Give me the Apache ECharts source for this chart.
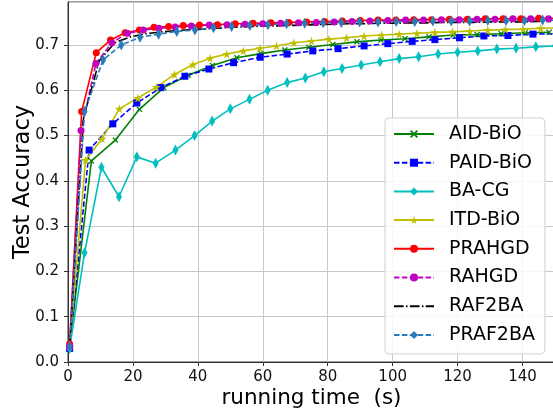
<!DOCTYPE html>
<html>
<head>
<meta charset="utf-8">
<script src="https://cdn.jsdelivr.net/npm/echarts@6/dist/echarts.min.js"></script>
<style>
html,body{margin:0;padding:0;background:#fff;}
#c{width:553px;height:419px;}
</style>
</head>
<body>
<div id="c"></div>
<script>
// ---- data ----
const seriesNames = ['AID-BiO','PAID-BiO','BA-CG','ITD-BiO','PRAHGD','RAHGD','RAF2BA','PRAF2BA'];
const xTicks = [0,20,40,60,80,100,120,140];
const yTicks = [0.0,0.1,0.2,0.3,0.4,0.5,0.6,0.7];

const aidT = [0.5, 7.2, 14.6, 22, 29.5, 37, 44.5, 52, 59.4, 66.8, 74.2, 81.6, 89, 96.4, 103.8, 111.2, 118.6, 126, 133.4, 140.8, 148.2];
const aidV = [0.035, 0.444, 0.490, 0.558, 0.606, 0.633, 0.655, 0.672, 0.681, 0.689, 0.695, 0.701, 0.707, 0.711, 0.714, 0.718, 0.722, 0.723, 0.725, 0.727, 0.728];

const paidT = [0.5, 6.5, 13.8, 21.2, 28.6, 36, 43.4, 51, 59.2, 67.5, 75.4, 83.2, 91.2, 98.5, 106, 113, 120.6, 128.1, 135.5, 143.2, 150.8];
const paidV = [0.03, 0.468, 0.526, 0.572, 0.606, 0.631, 0.647, 0.661, 0.673, 0.680, 0.687, 0.692, 0.698, 0.703, 0.708, 0.712, 0.716, 0.720, 0.721, 0.724, 0.725];

const bacgT = [0.5, 5.1, 10.3, 15.7, 21.2, 27, 33.1, 39, 44.4, 50, 55.9, 61.5, 67.5, 73.1, 78.8, 84.4, 90.3, 96.1, 102, 108, 114, 120, 126.2, 132.1, 138, 144.1, 150];
const bacgV = [0.03, 0.241, 0.430, 0.365, 0.453, 0.439, 0.468, 0.500, 0.532, 0.559, 0.580, 0.600, 0.617, 0.627, 0.641, 0.648, 0.656, 0.663, 0.670, 0.674, 0.680, 0.684, 0.687, 0.691, 0.693, 0.696, 0.698];

const itdT = [0.5, 5.4, 10.5, 15.8, 21.5, 27.2, 32.8, 38.5, 43.8, 48.9, 54, 59.1, 64.2, 69.6, 75, 80.4, 85.8, 91.2, 96.6, 102, 107.5, 113, 118.4, 123.8, 129.3, 134.7, 140.2, 145.6, 151];
const itdV = [0.035, 0.446, 0.493, 0.559, 0.583, 0.607, 0.635, 0.657, 0.671, 0.680, 0.687, 0.693, 0.698, 0.705, 0.709, 0.713, 0.716, 0.720, 0.722, 0.724, 0.726, 0.728, 0.729, 0.731, 0.733, 0.734, 0.735, 0.737, 0.738];

const prahgdT = [0.5, 4.2, 8.7, 13.1, 17.6, 22, 26.5, 31, 35.5, 40.5, 46, 51.5, 57, 62.5, 68, 73.5, 79, 84.5, 90, 95.5, 101, 106.5, 112, 117.5, 123, 128.5, 134, 139.5, 145, 150.5];
const prahgdV = [0.04, 0.553, 0.683, 0.711, 0.727, 0.733, 0.739, 0.741, 0.743, 0.744, 0.745, 0.747, 0.748, 0.749, 0.750, 0.751, 0.752, 0.753, 0.754, 0.755, 0.755, 0.756, 0.756, 0.757, 0.757, 0.758, 0.758, 0.758, 0.759, 0.759];

const rahgdT = [0.5, 4, 8.6, 13.5, 18.3, 23.2, 28, 33, 38, 43.5, 49, 54.5, 60, 65.5, 71, 76.5, 82, 87.5, 93, 98.5, 104, 109.5, 115, 120.5, 126, 131.5, 137, 142.5, 148];
const rahgdV = [0.035, 0.511, 0.659, 0.705, 0.726, 0.733, 0.737, 0.740, 0.742, 0.744, 0.745, 0.746, 0.747, 0.748, 0.749, 0.750, 0.751, 0.752, 0.753, 0.754, 0.755, 0.755, 0.756, 0.756, 0.757, 0.757, 0.758, 0.758, 0.758];

const raf2baT = [0.5, 4.8, 9.6, 14.4, 19.2, 24, 28.8, 33.6, 38.4, 43.2, 48, 52.8, 57.6, 62.4, 67.2, 72, 76.8, 81.6, 86.4, 91.2, 96, 100.8, 105.6, 110.4, 115.2, 120, 124.8, 129.6, 134.4, 139.2, 144, 148.8];
const raf2baV = [0.03, 0.54, 0.665, 0.705, 0.718, 0.725, 0.729, 0.732, 0.734, 0.736, 0.738, 0.740, 0.741, 0.742, 0.743, 0.744, 0.745, 0.746, 0.747, 0.747, 0.748, 0.748, 0.749, 0.749, 0.750, 0.750, 0.750, 0.751, 0.751, 0.751, 0.752, 0.752];

const praf2baT = [0.5, 5.1, 10.8, 16.4, 22.2, 27.9, 33.5, 39.1, 44.8, 50.4, 56, 61.6, 67.3, 72.9, 78.6, 84.2, 89.8, 95.5, 101.1, 106.8, 112.4, 118, 123.7, 129.3, 134.9, 140.6, 146.2, 151.8];
const praf2baV = [0.035, 0.553, 0.667, 0.700, 0.717, 0.724, 0.730, 0.733, 0.738, 0.741, 0.743, 0.745, 0.747, 0.748, 0.749, 0.750, 0.751, 0.751, 0.752, 0.752, 0.753, 0.753, 0.753, 0.754, 0.754, 0.754, 0.755, 0.755];

// ---- helpers ----
function pairs(t, v){ return t.map((x,i)=>[x, v[i]]); }
const STAR = 'path://M50,0L61,35L98,35L68,57L79,91L50,70L21,91L32,57L2,35L39,35Z';
const XMARK = 'path://M0,1.5L1.5,0L5,3.5L8.5,0L10,1.5L6.5,5L10,8.5L8.5,10L5,6.5L1.5,10L0,8.5L3.5,5Z';
const DASH = [5.5, 2.4];
const DASHDOT = [9.6, 2.4, 1.5, 2.4];
const LW = 1.6;

function mk(name, t, v, color, lineType, symbol, size){
  const noMark = symbol === 'none';
  return {
    name: name, type: 'line', data: pairs(t, v),
    showSymbol: !noMark, showAllSymbol: true,
    symbol: noMark ? 'circle' : symbol, symbolSize: noMark ? 0 : size,
    lineStyle: {color: color, width: LW, type: lineType},
    itemStyle: {color: color, borderColor: color, borderWidth: 0},
    emphasis: {disabled: true},
    clip: true, z: 2
  };
}

const series = [
  mk(seriesNames[0], aidT, aidV, '#008000', 'solid', XMARK, 6),
  mk(seriesNames[1], paidT, paidV, '#0000ff', DASH, 'rect', 7),
  mk(seriesNames[2], bacgT, bacgV, '#00bfbf', 'solid', 'diamond', [6, 11]),
  mk(seriesNames[3], itdT, itdV, '#bfbf00', 'solid', STAR, 9),
  mk(seriesNames[4], prahgdT, prahgdV, '#ff0000', 'solid', 'circle', 7),
  mk(seriesNames[5], rahgdT, rahgdV, '#bf00bf', DASH, 'circle', 7),
  mk(seriesNames[6], raf2baT, raf2baV, '#000000', DASHDOT, 'none', 0),
  mk(seriesNames[7], praf2baT, praf2baV, '#2b7bba', DASH, 'diamond', [6, 11])
];

const legendData = seriesNames.map(n => n === 'RAF2BA'
  ? {name: n, itemStyle: {color: 'rgba(0,0,0,0)', borderColor: 'rgba(0,0,0,0)', borderWidth: 0, opacity: 0}}
  : {name: n});

const chart = echarts.init(document.getElementById('c'), null, {renderer: 'canvas'});
const FONT = 'DejaVu Sans';
chart.setOption({
  animation: false,
  backgroundColor: '#ffffff',
  textStyle: {fontFamily: FONT},
  grid: {left: 68, top: 2, right: -2, bottom: 57, containLabel: false, outerBoundsMode: 'none',
    show: true, borderColor: '#333', borderWidth: 1, backgroundColor: 'transparent'},
  xAxis: {
    type: 'value', min: xTicks[0], max: 150, interval: 20,
    name: 'running time  (s)', nameLocation: 'middle', nameGap: 25, nameMoveOverlap: false,
    nameTextStyle: {fontSize: 21.5, color: '#000', fontFamily: FONT},
    axisLine: {show: true, lineStyle: {color: '#333', width: 1}},
    axisTick: {show: true, length: 4, lineStyle: {color: '#333'}},
    axisLabel: {fontSize: 15, color: '#111', margin: 8, fontFamily: FONT, showMaxLabel: false,
      formatter: function(v){ return xTicks.indexOf(v) >= 0 ? String(v) : ''; }},
    splitLine: {show: true, lineStyle: {color: '#c8c8c8', width: 1}}
  },
  yAxis: {
    type: 'value', min: 0, max: 0.795, interval: 0.1,
    name: 'Test Accuracy', nameLocation: 'middle', nameGap: 33, nameMoveOverlap: false,
    nameTextStyle: {fontSize: 22.5, color: '#000', fontFamily: FONT},
    axisLine: {show: true, lineStyle: {color: '#333', width: 1}},
    axisTick: {show: true, length: 4, lineStyle: {color: '#333'}},
    axisLabel: {fontSize: 15, color: '#111', margin: 9, fontFamily: FONT, showMaxLabel: false,
      formatter: function(v){
        const r = Math.round(v*10)/10;
        return yTicks.some(t => Math.abs(t - v) < 1e-6) ? r.toFixed(1) : '';
      }},
    splitLine: {show: true, lineStyle: {color: '#c8c8c8', width: 1}}
  },
  legend: {
    data: legendData, orient: 'vertical', left: 385, top: 118,
    itemWidth: 40, itemHeight: 10, itemGap: 8.7,
    padding: [6, 10, 9, 8],
    backgroundColor: 'rgba(255,255,255,0.85)', borderColor: '#d0d0d0', borderWidth: 1, borderRadius: 4,
    textStyle: {fontSize: 19, color: '#000', fontFamily: FONT, lineHeight: 20, padding: [0,0,0,10]},
    selectedMode: false
  },
  series: series
});
</script>
</body>
</html>
